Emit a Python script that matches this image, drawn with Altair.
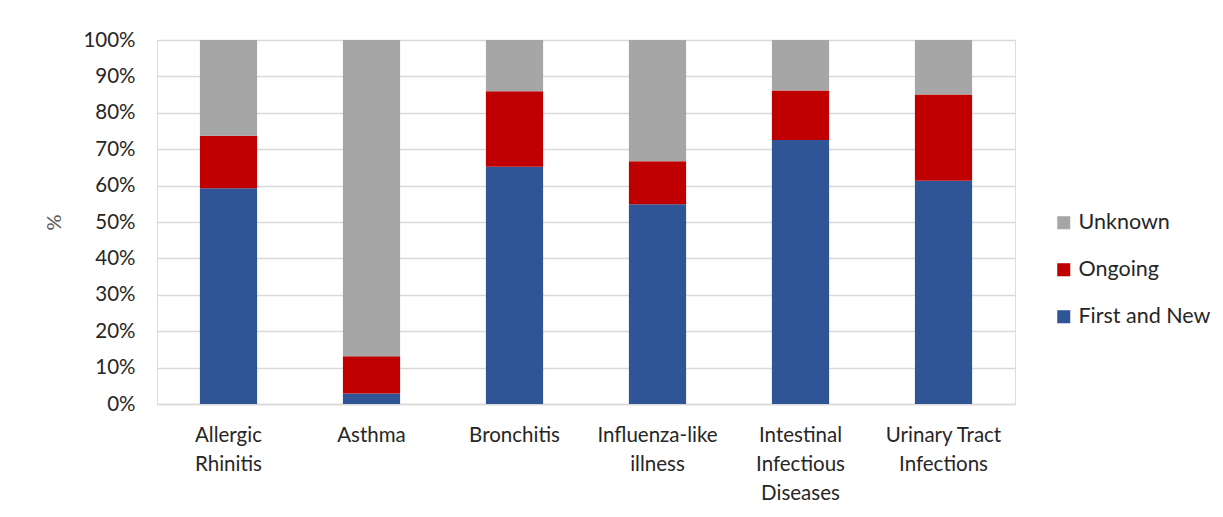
import altair as alt
import pandas as pd

categories = [
    "Allergic\nRhinitis",
    "Asthma",
    "Bronchitis",
    "Influenza-like\nillness",
    "Intestinal\nInfectious\nDiseases",
    "Urinary Tract\nInfections",
]
first_and_new = [59.3, 2.9, 65.2, 54.9, 72.5, 61.3]
ongoing = [14.4, 10.2, 20.7, 11.8, 13.6, 23.7]
unknown = [26.3, 86.9, 14.1, 33.3, 13.9, 15.0]

series_names = ["Unknown", "Ongoing", "First and New"]
series_colors = ["#A6A6A6", "#C00000", "#2F5597"]
y_ticks = [0, 10, 20, 30, 40, 50, 60, 70, 80, 90, 100]

rows = []
for i, c in enumerate(categories):
    rows.append({"cat": c, "series": "First and New", "value": first_and_new[i], "ord": 0})
    rows.append({"cat": c, "series": "Ongoing", "value": ongoing[i], "ord": 1})
    rows.append({"cat": c, "series": "Unknown", "value": unknown[i], "ord": 2})
df = pd.DataFrame(rows)

FONT = "Lato"

chart = (
    alt.Chart(df)
    .mark_bar()
    .encode(
        x=alt.X(
            "cat:N",
            sort=categories,
            scale=alt.Scale(paddingInner=0.6, paddingOuter=0.3),
            axis=alt.Axis(
                title=None,
                labelAngle=0,
                labelExpr="split(datum.label, '\\n')",
                labelFontSize=20.5,
                labelFont=FONT,
                labelColor="#262626",
                labelLineHeight=29,
                labelBaseline="top",
                labelPadding=21,
                ticks=False,
                domainColor="#D9D9D9",
                domainWidth=1.5,
                grid=False,
            ),
        ),
        y=alt.Y(
            "value:Q",
            stack="zero",
            scale=alt.Scale(domain=[0, 100], nice=False),
            axis=alt.Axis(
                title="%",
                titleFont=FONT,
                titleFontSize=20,
                titleFontWeight="normal",
                titleColor="#595959",
                titlePadding=18,
                values=y_ticks,
                labelExpr="datum.value + '%'",
                labelFont=FONT,
                labelFontSize=20.5,
                labelColor="#262626",
                labelPadding=22,
                ticks=False,
                domain=False,
                gridColor="#D9D9D9",
                gridWidth=1.7,
            ),
        ),
        color=alt.Color(
            "series:N",
            scale=alt.Scale(domain=series_names, range=series_colors),
            legend=alt.Legend(
                title=None,
                orient="none",
                legendX=896,
                legendY=172,
                symbolType="square",
                symbolSize=170,
                symbolStrokeWidth=0,
                symbolOpacity=1,
                labelFont=FONT,
                labelFontSize=21.5,
                labelColor="#262626",
                labelOffset=4,
                rowPadding=24,
                padding=0,
            ),
        ),
        order=alt.Order("ord:Q", sort="ascending"),
    )
    .properties(
        width=858,
        height=364,
        autosize=alt.AutoSizeParams(type="none"),
        padding={"left": 149, "top": 32, "right": 200, "bottom": 105},
    )
    .configure_view(stroke=None)
    .configure(background="white")
)

chart.save("out.html", embed_options={"renderer": "svg", "actions": False})
